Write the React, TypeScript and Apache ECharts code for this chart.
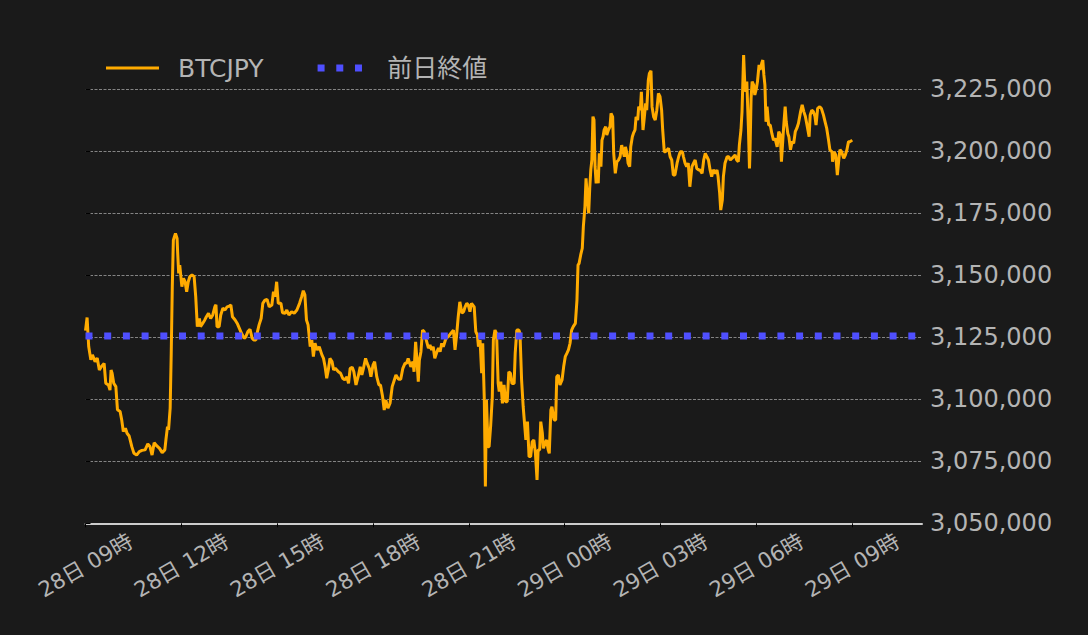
import React, { useEffect, useRef } from "react";
import * as echarts from "echarts";

// minutes since 28日 09:00
const times = [
  0, 3, 6, 10, 13, 18, 22, 26, 30, 35, 38, 43, 46, 48, 50, 53, 57, 60, 65, 68, 71, 75, 78, 82, 87, 91, 96, 101, 106, 112,
  117, 121, 125, 129, 134, 139, 144, 149, 151, 154, 156, 159, 161, 163, 165, 167, 169, 172, 173, 175, 177, 181, 184, 187,
  190, 193, 196, 200, 204, 207, 210, 214, 216, 220, 224, 227, 231, 235, 239, 243, 245, 247, 251,
  254, 258, 262, 266, 270, 273, 276, 281, 285, 289, 293, 298, 301, 305, 309, 313, 316, 320, 323, 326, 330, 333, 337, 341,
  345, 350, 353, 356, 359, 362, 367, 370, 375, 378, 382, 387, 392, 397, 402, 406, 409, 412, 415, 418, 422, 425, 428, 431,
  435, 439, 444, 447, 450, 453, 456, 459, 463, 466, 469, 472, 475, 479, 483, 487, 491, 494,
  497, 501, 504, 508, 512, 516, 519, 522, 526, 529, 533, 536, 540, 543, 547, 551, 554, 558, 561, 564, 568, 572, 576, 580,
  583, 588, 592, 596, 600, 603, 606, 611, 615, 617, 620, 622, 625, 627, 630, 633, 636, 640, 644, 647, 650, 653, 656, 660,
  663, 666, 669, 672, 677, 681, 686, 691, 694, 697, 700, 703, 707, 710, 713, 716, 719, 722, 725, 730, 733, 736,
  738, 741, 744, 746, 749, 751, 753, 756, 758, 761, 764, 766, 769, 772, 775, 777, 780, 783, 786, 789, 792, 795, 798, 801,
  805, 807, 810, 814, 816, 819, 822, 824, 827, 830, 833, 836, 839, 842, 845, 848, 850, 853, 855, 858, 860, 863, 866, 869,
  871, 874, 876, 880, 883, 885, 888, 891, 895, 898, 901, 904, 907, 910, 913, 916, 920, 923, 925, 927, 930, 933, 935, 938,
  940, 942, 945, 947, 949, 951, 953, 955, 957, 959, 960, 963, 965, 968,
  970, 972, 974, 977, 979, 982, 985, 987, 990, 992, 995, 998, 1001, 1004, 1007, 1009, 1012, 1014, 1017, 1019, 1022, 1024,
  1027, 1029, 1032, 1034, 1037, 1039, 1042, 1044, 1047, 1049, 1052, 1054, 1057, 1059, 1062, 1064, 1067, 1070, 1073, 1076,
  1079, 1082, 1084, 1087, 1089, 1092, 1095, 1098, 1101, 1104, 1107, 1111, 1114, 1117, 1121, 1123, 1126, 1129, 1132, 1135,
  1139, 1142, 1145, 1148, 1152, 1154, 1158, 1161, 1164, 1167, 1170, 1173, 1176, 1179, 1183, 1186, 1188, 1191, 1193, 1196,
  1198, 1201, 1205, 1208, 1211, 1214,
  1217, 1220, 1223, 1226, 1228, 1231, 1233, 1236, 1238, 1240, 1242, 1245, 1247, 1248, 1250, 1252, 1255, 1257, 1260, 1262,
  1265, 1267, 1270, 1272, 1274, 1276, 1278, 1280, 1283, 1286, 1289, 1292, 1295, 1299, 1302, 1305, 1307, 1309, 1311, 1314,
  1316, 1319, 1321, 1324, 1327, 1330, 1333, 1336, 1339, 1343, 1346, 1349, 1352, 1355, 1359, 1361, 1364, 1367, 1370, 1372,
  1375, 1379, 1382, 1386, 1389, 1392, 1395, 1398, 1402, 1403, 1406, 1409, 1412, 1415, 1417, 1420, 1424, 1427, 1430, 1433,
  1436, 1440,
];

const prices = [
  3127700, 3133000, 3121300, 3115900, 3117900, 3115200, 3116600, 3111800, 3113200, 3114500, 3106500, 3105800, 3103700,
  3111800, 3110500, 3106500, 3105100, 3095800, 3095100, 3091700, 3087000, 3088300, 3086300, 3085200, 3080900, 3078200,
  3077500, 3078900, 3079400, 3079600, 3082000, 3081000, 3077500, 3082500, 3081200, 3080200, 3078500, 3079600, 3083600,
  3089000, 3087700, 3096400, 3118500, 3145400, 3164200, 3165600, 3166900, 3164900, 3159500, 3150800, 3154100, 3145400,
  3148800, 3147400, 3143400, 3147400, 3149500, 3150200, 3149500, 3141400, 3129300, 3132600, 3129300, 3130600, 3132000,
  3133300, 3134700, 3132600, 3134000, 3137400, 3138100, 3129300, 3129300,
  3134000, 3136700, 3136000, 3137300, 3137600, 3138000, 3133300, 3132000, 3130600, 3128600, 3126600, 3124600, 3125200,
  3127300, 3128200, 3124600, 3123900, 3123900, 3127300, 3130000, 3132700, 3138700, 3140000, 3140300, 3137300, 3138000,
  3143400, 3141400, 3147400, 3138700, 3138700, 3134900, 3134700, 3136000, 3134000, 3135300, 3134700, 3136000, 3138700,
  3141400, 3143800, 3142100, 3132000, 3130000, 3121200, 3123900, 3117200, 3122600, 3119900, 3121200, 3117900, 3116500,
  3113100, 3108500, 3111800, 3116500, 3115200, 3111800, 3112500, 3111800, 3111100, 3110500, 3108500, 3107800, 3109100,
  3106400,
  3112500, 3112900, 3111100, 3105800, 3109100, 3113100, 3109800, 3112500, 3116500, 3114500, 3112500, 3109100, 3113800,
  3115200, 3109100, 3105800, 3105800, 3101000, 3095700, 3099700, 3096400, 3098400, 3105100, 3107800, 3109800, 3108100,
  3108100, 3112500, 3114500, 3114500, 3116500, 3113100, 3115200, 3111100, 3123200, 3117200, 3107100, 3115800, 3119200,
  3127900, 3127300, 3123900, 3120600, 3121900, 3119900, 3121200, 3116500, 3119200, 3120600, 3119200, 3122600, 3121200,
  3124600, 3125200, 3126600, 3127900, 3119900, 3125900, 3133300, 3139300, 3134700, 3135300, 3137300, 3138700, 3138000,
  3135300, 3138700, 3137300, 3127300, 3125900,
  3121200, 3123900, 3110500, 3122600, 3099700, 3064800, 3099700, 3080900, 3080900, 3089600, 3101000, 3123900, 3127900,
  3126600, 3106400, 3103100, 3107100, 3098400, 3105800, 3099000, 3099000, 3111100, 3110500, 3106400, 3106400, 3118500,
  3127900, 3127900, 3126600, 3107800, 3097000, 3091700, 3083600, 3091000, 3076900, 3076900, 3082900, 3083600, 3078200,
  3067500, 3079600, 3079600, 3091000, 3086300, 3080200, 3082300, 3083600, 3079600, 3078200, 3095700, 3097000, 3091700,
  3091700, 3109100, 3109800, 3105800, 3107800, 3113100, 3117200, 3118500, 3119900, 3122600, 3127900, 3129300, 3130600,
  3140000, 3154100, 3154800, 3158200, 3160900, 3169600, 3177700, 3189100, 3183100, 3175000, 3185100, 3192500, 3196500,
  3214000, 3212600, 3193800, 3187100, 3192500, 3187100, 3199200, 3193800,
  3204500, 3205900, 3208600, 3209900, 3206600, 3208600, 3209900, 3215300, 3213900, 3199200, 3191100, 3195800, 3196500,
  3197800, 3202500, 3200500, 3197800, 3201800, 3199200, 3195200, 3193800, 3201800, 3205900, 3207200, 3208600, 3213900,
  3212600, 3218000, 3216600, 3224000, 3208600, 3212600, 3219300, 3216600, 3228700, 3231400, 3232500, 3218000, 3213900,
  3212600, 3216600, 3223400, 3222000, 3216600, 3208600, 3199800, 3199800, 3200500, 3201200, 3197800, 3196500, 3190400,
  3190400, 3195200, 3197800, 3199800, 3199800, 3197800, 3195200, 3193800, 3195200, 3185700, 3193800, 3195200, 3196500,
  3193100, 3192500, 3192500, 3191100, 3196500, 3199200, 3197800, 3196500, 3192500, 3189800, 3192500, 3191100, 3192500,
  3189800, 3183100, 3176300, 3180400, 3189800, 3195200, 3197800, 3197800, 3196500, 3197100,
  3197800, 3198500, 3196500, 3195800, 3202500, 3208600, 3216000, 3238800, 3228100, 3224000, 3228100, 3209300, 3193100,
  3199800, 3221300, 3228100, 3226700, 3222700, 3225400, 3228100, 3234800, 3232800, 3235500, 3236800, 3230800, 3226700,
  3211900, 3218000, 3210600, 3210600, 3207200, 3204500, 3205200, 3201800, 3207900, 3206600, 3195800, 3202500, 3209300,
  3218000, 3211900, 3207200, 3205900, 3200600, 3203900, 3203200, 3207900, 3209300, 3211300, 3216000, 3218700, 3216000,
  3214000, 3210600, 3205900, 3214600, 3216600, 3216000, 3214000, 3210600, 3217300, 3218000, 3217300, 3214600, 3211900,
  3209300, 3205200, 3200600, 3199800, 3195800, 3199800, 3198500, 3190400, 3197200, 3200600, 3199800, 3197200, 3198500,
  3200600, 3203900, 3203900, 3204500,
];

const prevClose = 3125500;

const xTickValues = [0, 180, 360, 540, 720, 900, 1080, 1260, 1440];
const xTickLabels = [
  "28日 09時",
  "28日 12時",
  "28日 15時",
  "28日 18時",
  "28日 21時",
  "29日 00時",
  "29日 03時",
  "29日 06時",
  "29日 09時",
];
const xMin = 0;
const xMax = 1571;

const yMin = 3050000;
const yMax = 3225000;
const yInterval = 25000;

const FONT = '"DejaVu Sans", "Noto Sans CJK JP", sans-serif';
const TEXT = "#b4b4b4";
const ORANGE = "#ffab00";
const BLUE = "#4f4fff";

const lineIcon = "path://M0,0H53V3H0Z";
const dotIcon = "path://M0,0H7V7H0Z M18.7,0H25.7V7H18.7Z M37.4,0H44.4V7H37.4Z";

export default function App() {
  const ref = useRef<HTMLDivElement>(null);

  useEffect(() => {
    document.body.style.margin = "0";
    document.body.style.background = "#1a1a1a";
    const chart = echarts.init(ref.current!, undefined, { renderer: "svg" });
    const lineData = times.map((t, i) => [t, prices[i]]);
    chart.setOption({
      animation: false,
      backgroundColor: "#1a1a1a",
      textStyle: { fontFamily: FONT },
      legend: {
        left: 106,
        top: 54,
        padding: 0,
        itemWidth: 53,
        itemHeight: 7,
        itemGap: 54,
        itemStyle: { borderWidth: 0 },
        textStyle: { color: TEXT, fontSize: 25, lineHeight: 28, fontFamily: FONT, padding: [0, 0, 0, 14] },
        data: [
          { name: "BTCJPY", icon: lineIcon },
          { name: "前日終値", icon: dotIcon, textStyle: { padding: [0, 0, 0, 16] } },
        ],
      },
      grid: { left: 85.5, right: 166, top: 89.3, bottom: 111.7, containLabel: false },
      xAxis: {
        type: "value",
        min: xMin,
        max: xMax,
        splitLine: { show: false },
        axisLine: { show: true, lineStyle: { color: "#cccccc", width: 2 } },
        axisTick: {
          show: true,
          customValues: xTickValues,
          length: 4,
          lineStyle: { color: "#000000", width: 1 },
        },
        axisLabel: {
          customValues: xTickValues,
          formatter: (v: number) => {
            const i = xTickValues.indexOf(v);
            return i >= 0 ? xTickLabels[i] : "";
          },
          rotate: 30,
          align: "center",
          verticalAlign: "middle",
          margin: 42,
          color: TEXT,
          fontSize: 21.5,
          fontFamily: FONT,
        },
      },
      yAxis: {
        type: "value",
        position: "right",
        min: yMin,
        max: yMax,
        interval: yInterval,
        axisLine: { show: false },
        axisTick: { show: true, length: 5, lineStyle: { color: "#000000", width: 1 } },
        splitLine: { show: true, lineStyle: { color: "#a0a0a0", width: 0.8, type: [3, 1.5] } },
        axisLabel: {
          color: TEXT,
          fontSize: 24,
          fontFamily: FONT,
          margin: 8,
          padding: [4, 0, 0, 0],
          formatter: (v: number) => v.toLocaleString("en-US"),
        },
      },
      series: [
        {
          name: "BTCJPY",
          type: "line",
          data: lineData,
          showSymbol: false,
          symbol: "none",
          clip: false,
          lineStyle: { color: ORANGE, width: 3 },
          itemStyle: { color: ORANGE },
          z: 2,
        },
        {
          name: "前日終値",
          type: "line",
          data: [
            [xMin, prevClose],
            [xMax, prevClose],
          ],
          showSymbol: false,
          symbol: "none",
          lineStyle: { color: BLUE, width: 7, type: [7, 11.7], cap: "butt" },
          itemStyle: { color: BLUE },
          z: 3,
        },
      ],
    });
    return () => chart.dispose();
  }, []);

  return <div ref={ref} style={{ position: "absolute", left: 0, top: 0, width: 1088, height: 635 }} />;
}
